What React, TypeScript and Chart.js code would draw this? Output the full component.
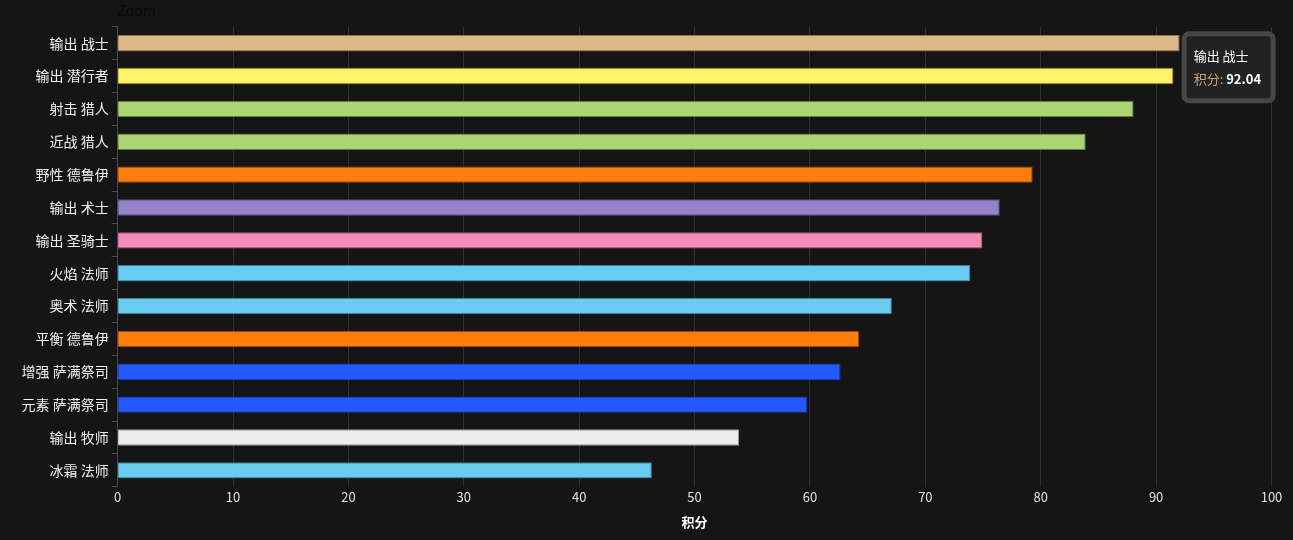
import React, { useEffect, useRef } from "react";
import { Chart, registerables } from "chart.js";

Chart.register(...registerables);

const categories = [
  "输出 战士",
  "输出 潜行者",
  "射击 猎人",
  "近战 猎人",
  "野性 德鲁伊",
  "输出 术士",
  "输出 圣骑士",
  "火焰 法师",
  "奥术 法师",
  "平衡 德鲁伊",
  "增强 萨满祭司",
  "元素 萨满祭司",
  "输出 牧师",
  "冰霜 法师",
];

const scores = [92.04, 91.5, 88.05, 83.9, 79.3, 76.45, 74.95, 73.9, 67.1, 64.25, 62.65, 59.75, 53.85, 46.3];

const barColors = [
  "#deb887", "#fff468", "#abd473", "#abd473", "#ff7d0a", "#9482c9", "#f58cba",
  "#69ccf0", "#69ccf0", "#ff7d0a", "#2459ff", "#2459ff", "#eeeeee", "#69ccf0",
];

const barBorders = [
  "#8f7656", "#8d8634", "#5e7a38", "#5e7a38", "#9a4a05", "#5b4d86", "#a2587a",
  "#3a7f99", "#3a7f99", "#9a4a05", "#1a3aa8", "#1a3aa8", "#9a9a9a", "#3a7f99",
];

const tickValues = [0, 10, 20, 30, 40, 50, 60, 70, 80, 90, 100];

const seriesName = "积分";
const chartTitle = "Zoom";
const FONT = "'Noto Sans CJK SC', 'Noto Sans', sans-serif";

const tooltipPlugin = {
  id: "fixedTooltip",
  afterDraw(chart: any) {
    const meta = chart.getDatasetMeta(0);
    const el = meta.data[0];
    if (!el) return;
    const ctx = chart.ctx;
    const bx = el.x + 2;
    const by = el.y - 12;
    const w = 94;
    const h = 72;
    ctx.save();
    ctx.beginPath();
    (ctx as any).roundRect(bx + 2.5, by + 2.5, w - 5, h - 5, 5);
    ctx.fillStyle = "#222222";
    ctx.fill();
    ctx.lineWidth = 5;
    ctx.strokeStyle = "#474747";
    ctx.stroke();
    ctx.textBaseline = "middle";
    ctx.textAlign = "left";
    ctx.fillStyle = "#ffffff";
    ctx.font = `13px ${FONT}`;
    ctx.fillText(categories[0], bx + 12, by + 25);
    const label = seriesName + ": ";
    ctx.fillStyle = "#c9a27e";
    ctx.fillText(label, bx + 12, by + 48);
    const lw = ctx.measureText(label).width;
    ctx.fillStyle = "#ffffff";
    ctx.font = `bold 13px ${FONT}`;
    ctx.fillText(scores[0].toFixed(2), bx + 12 + lw, by + 48);
    ctx.restore();
  },
};

export default function App() {
  const ref = useRef<HTMLCanvasElement | null>(null);

  useEffect(() => {
    document.body.style.margin = "0";
    document.body.style.background = "#151515";
    const canvas = ref.current;
    if (!canvas) return;
    const chart = new Chart(canvas, {
      type: "bar",
      data: {
        labels: categories,
        datasets: [
          {
            label: seriesName,
            data: scores,
            backgroundColor: barColors,
            borderColor: barBorders,
            borderWidth: 1,
            categoryPercentage: 1,
            barPercentage: 0.5,
          },
        ],
      },
      options: {
        indexAxis: "y",
        animation: false,
        responsive: false,
        maintainAspectRatio: false,
        layout: { padding: { left: 18.5, right: 21.5, top: 0, bottom: 6 } },
        plugins: {
          legend: { display: false },
          tooltip: { enabled: false },
          title: {
            display: true,
            text: chartTitle,
            align: "start",
            fullSize: false,
            color: "#0a0a0a",
            font: { family: FONT, size: 14, weight: "normal" },
            padding: { top: 2, bottom: 8 },
          },
        },
        scales: {
          x: {
            type: "linear",
            min: 0,
            max: 100,
            afterBuildTicks: (axis: any) => {
              axis.ticks = tickValues.map((v) => ({ value: v }));
            },
            grid: {
              color: "#303030",
              lineWidth: 1,
              drawTicks: false,
            },
            border: { display: false },
            ticks: {
              color: "#e0e0e0",
              padding: 2,
              font: { family: FONT, size: 13 },
            },
            title: {
              display: true,
              text: seriesName,
              color: "#ffffff",
              font: { family: FONT, size: 13, weight: "bold" },
              padding: { top: 8, bottom: 4 },
            },
          },
          y: {
            type: "category",
            offset: true,
            grid: {
              drawOnChartArea: false,
              drawTicks: true,
              tickLength: 6,
              color: "#4a4a4a",
              offset: true,
            },
            border: { display: true, color: "#4a4a4a", width: 1 },
            ticks: {
              color: "#f0f0f0",
              padding: 3,
              autoSkip: false,
              font: { family: FONT, size: 14 },
            },
          },
        },
      },
      plugins: [tooltipPlugin],
    } as any);
    return () => chart.destroy();
  }, []);

  return (
    <div style={{ width: 1293, height: 540, background: "#151515" }}>
      <canvas ref={ref} width={1293} height={540} style={{ display: "block" }} />
    </div>
  );
}
